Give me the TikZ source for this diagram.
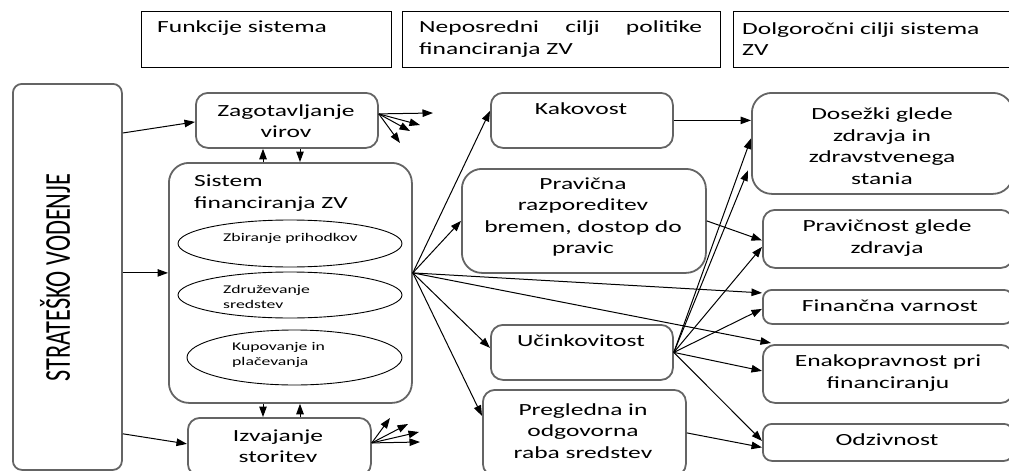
\documentclass[tikz,border=0pt]{standalone}
\usepackage{fontspec}
\usepackage{graphicx}
\setmainfont{Carlito}[FakeStretch=1.5]
\newfontfamily\stratfont{Carlito}
\usetikzlibrary{shapes.geometric,arrows.meta}
\definecolor{bordgray}{RGB}{100,100,100}
\begin{document}
\begin{tikzpicture}[x=1pt,y=-1pt,
 hbox/.style={draw=black,line width=1.4pt,anchor=north west,inner sep=0pt},
 rbox/.style={draw=bordgray,line width=1.8pt,rounded corners=12pt,anchor=north west,inner sep=0pt},
 bigbox/.style={rbox,rounded corners=20pt},
 ell/.style={draw=black,line width=0.9pt,ellipse,inner sep=0pt},
 txt/.style={font=\fontsize{17pt}{21.5pt}\selectfont,align=center,inner sep=0pt},
 stxt/.style={font=\fontsize{11.8pt}{15pt}\selectfont,align=left,inner sep=0pt,anchor=west},
 arr/.style={-{Triangle[length=10.5pt,width=7.5pt]},line width=1pt},
]
\useasboundingbox (0,0) rectangle (1009,471);
\clip (0,0) rectangle (1009,471);

% header boxes
\node[hbox,minimum width=250pt,minimum height=56pt] (h1) at (141,11) {};
\node[hbox,minimum width=318pt,minimum height=56pt] (h2) at (402,11) {};
\node[hbox,minimum width=290pt,minimum height=56pt] (h3) at (733,11) {};
\node[txt,anchor=west] (h1t) at (157,28) {Funkcije sistema};
\node[txt,anchor=west,align=left] (h2t) at (419,39) {\makebox[283pt][l]{Neposredni\hfill cilji\hfill politike}\\financiranja ZV};
\node[txt,anchor=west,align=left] (h3t) at (742,39) {Dolgoročni cilji sistema\\ZV};

% left column
\node[rbox,rounded corners=9pt,minimum width=109pt,minimum height=386pt] (strat) at (12,83) {};
\node[inner sep=0pt] (stratt) at (55,277.5) {\scalebox{1.5}[1]{\rotatebox{90}{\stratfont\fontsize{24.3pt}{26pt}\selectfont STRATEŠKO VODENJE}}};

\node[rbox,minimum width=182pt,minimum height=55pt] (zag) at (195,92) {};
\node[txt] (zagt) at (286,121) {Zagotavljanje\\virov};
\node[bigbox,minimum width=243pt,minimum height=240pt] (sis) at (168,162) {};
\node[txt,anchor=west,align=left] (sist) at (194,193) {Sistem\\financiranja ZV};
\node[ell,minimum width=224pt,minimum height=47pt] (e1) at (290,243.5) {};
\node[ell,minimum width=224pt,minimum height=46pt] (e2) at (290,295) {};
\node[ell,minimum width=215pt,minimum height=55pt] (e3) at (294.5,357.5) {};
\node[stxt] (e1t) at (223,238) {Zbiranje prihodkov};
\node[stxt] (e2t) at (223,297) {Združevanje\\sredstev};
\node[stxt] (e3t) at (232,355) {Kupovanje in\\plačevanja};
\node[rbox,minimum width=183pt,minimum height=58pt] (izv) at (187,417) {};
\node[txt] (izvt) at (278,446) {Izvajanje\\storitev};

% middle column
\node[rbox,minimum width=182pt,minimum height=55pt] (kak) at (490,92) {};
\node[txt] (kakt) at (581,109) {Kakovost};
\node[bigbox,minimum width=244pt,minimum height=104pt] (pra) at (461,168) {};
\node[txt] (prat) at (583,217) {Pravična\\razporeditev\\bremen, dostop do\\pravic};
\node[rbox,minimum width=182pt,minimum height=55pt] (uci) at (490,324) {};
\node[txt] (ucit) at (581,341) {Učinkovitost};
\node[rbox,minimum width=203pt,minimum height=86pt] (pre) at (482,389) {};
\node[txt] (pret) at (583,431) {Pregledna in\\odgovorna\\raba sredstev};

% right column
\node[bigbox,minimum width=261pt,minimum height=101pt] (dos) at (751,92) {};
\node[txt] (dost) at (882,146) {Dosežki glede\\zdravja in\\zdravstvenega\\stania};
\node[rbox,minimum width=250pt,minimum height=58pt] (pgz) at (762,209) {};
\node[txt] (pgzt) at (887,238) {Pravičnost glede\\zdravja};
\node[rbox,rounded corners=9pt,minimum width=250pt,minimum height=34pt] (fin) at (762,289) {};
\node[txt] (fint) at (890,306) {Finančna varnost};
\node[rbox,minimum width=250pt,minimum height=58pt] (ena) at (762,344) {};
\node[txt] (enat) at (888,373) {Enakopravnost pri\\financiranju};
\node[rbox,rounded corners=9pt,minimum width=250pt,minimum height=37pt] (odz) at (762,423) {};
\node[txt] (odzt) at (887,440) {Odzivnost};

% connectors from strateško vodenje
\coordinate (s2) at ([yshift=10pt]sis.west);
\draw[arr] ([yshift=-50pt]strat.north east) -- ([yshift=-1.5pt]zag.west);
\draw[arr] (s2 -| strat.east) -- (s2);
\draw[arr] ([yshift=37pt]strat.south east) -- ([yshift=3pt]izv.west);

% vertical arrows
\coordinate (ua) at (263,0);
\coordinate (ub) at (300,0);
\draw[arr] (sis.north -| ua) -- (zag.south -| ua);
\draw[arr] (zag.south -| ub) -- (sis.north -| ub);
\draw[arr] (sis.south -| ua) -- (izv.north -| ua);
\draw[arr] (izv.north -| ub) -- (sis.south -| ub);

% fans
\coordinate (zs) at ([yshift=6.5pt]zag.east);
\coordinate (z1) at (433,113);
\coordinate (z2) at (420,125);
\coordinate (z3) at (410,131);
\coordinate (z4) at (400,143);
\foreach \t in {z1,z2,z3,z4} \draw[arr] (zs) -- (\t);
\coordinate (is) at ([yshift=4pt]izv.east);
\coordinate (i1) at (420,442);
\coordinate (i2) at (419,432);
\coordinate (i3) at (408,424);
\coordinate (i4) at (390,418);
\foreach \t in {i1,i2,i3,i4} \draw[arr] (is) -- (\t);

% from sistem financiranja
\coordinate (ss) at ([yshift=10pt]sis.east);
\draw[arr] (ss) -- ([yshift=9.5pt]kak.west);
\draw[arr] (ss) -- (pra.west);
\draw[arr] (ss) -- ([yshift=14pt]fin.west);
\draw[arr] (ss) -- ([xshift=9pt,yshift=1pt]ena.north west);
\draw[arr] (ss) -- ([yshift=4.5pt]uci.west);
\draw[arr] (ss) -- ([yshift=17pt]pre.west);

% middle to right
\draw[arr] (kak.east) -- (kak.east -| dos.west);
\draw[arr] (pra.east) -- ([yshift=-1.5pt]pgz.west);
\draw[arr] (uci.east) -- ([yshift=5pt]dos.west);
\draw[arr] (uci.east) -- ([xshift=-3pt,yshift=-27pt]dos.west);
\draw[arr] (uci.east) -- ([yshift=-8pt]pgz.west);
\draw[arr] (uci.east) -- ([yshift=-2pt]fin.west);
\draw[arr] (uci.east) -- ([yshift=3pt]ena.west);
\draw[arr] (uci.east) -- ([yshift=1.5pt]odz.west);
\draw[arr] (pre.east) -- ([yshift=-5pt]odz.west);
\end{tikzpicture}
\end{document}
